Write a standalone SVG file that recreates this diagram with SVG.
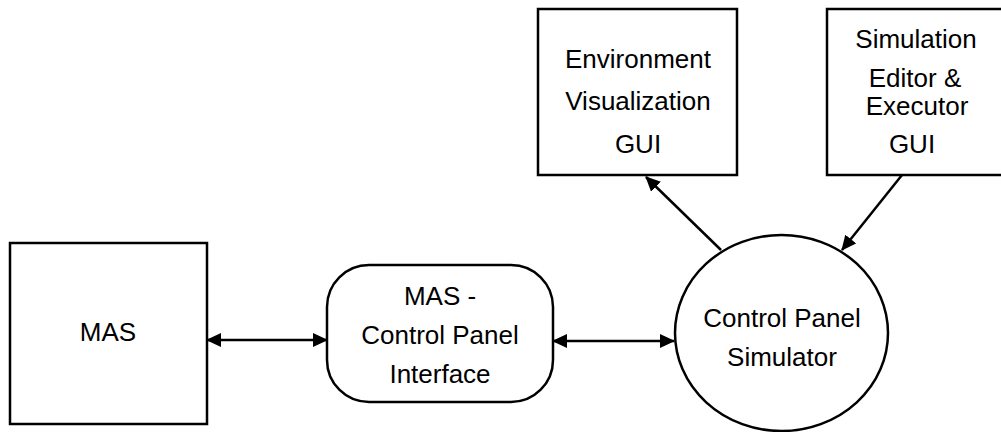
<svg xmlns="http://www.w3.org/2000/svg" width="1001" height="432" viewBox="0 0 1001 432">
  <defs>
    <style>
      .shape { fill: #ffffff; stroke: #000000; stroke-width: 2.5; }
      .edge { fill: none; stroke: #000000; stroke-width: 2.5; }
      .label { font-family: "Liberation Sans", Arial, sans-serif; font-size: 26px; fill: #000000; text-anchor: middle; }
    </style>
    <marker id="head" viewBox="0 0 15 14" markerWidth="15" markerHeight="14" refX="14" refY="7" orient="auto-start-reverse" markerUnits="userSpaceOnUse">
      <path d="M0,0 L15,7 L0,14 z" fill="#000000"/>
    </marker>
  </defs>

  <rect width="1001" height="432" fill="#ffffff"/>

  <!-- connectors -->
  <g id="connectors">
    <line class="edge" x1="207" y1="340" x2="327" y2="340" marker-start="url(#head)" marker-end="url(#head)"/>
    <line class="edge" x1="553" y1="341" x2="674" y2="341" marker-start="url(#head)" marker-end="url(#head)"/>
    <line class="edge" x1="721" y1="250" x2="646" y2="177" marker-end="url(#head)"/>
    <line class="edge" x1="902" y1="175" x2="842" y2="250" marker-end="url(#head)"/>
  </g>

  <g id="mas">
    <rect class="shape" x="10" y="243" width="197" height="181"/>
    <text class="label" x="108" y="341">MAS</text>
  </g>

  <g id="interface">
    <rect class="shape" x="327" y="265" width="226" height="137" rx="42" ry="42"/>
    <text class="label" x="440" y="305">MAS -</text>
    <text class="label" x="440" y="344">Control Panel</text>
    <text class="label" x="440" y="383">Interface</text>
  </g>

  <g id="simulator">
    <ellipse class="shape" cx="781.5" cy="333" rx="106.5" ry="98"/>
    <text class="label" x="782" y="327">Control Panel</text>
    <text class="label" x="782" y="366">Simulator</text>
  </g>

  <g id="env-gui">
    <rect class="shape" x="538" y="9" width="199" height="166"/>
    <text class="label" x="638" y="68">Environment</text>
    <text class="label" x="638" y="110">Visualization</text>
    <text class="label" x="638" y="153">GUI</text>
  </g>

  <g id="sim-gui">
    <rect class="shape" x="827" y="9" width="180" height="166"/>
    <text class="label" x="916" y="48">Simulation</text>
    <text class="label" x="915" y="87">Editor &amp;</text>
    <text class="label" x="917" y="115">Executor</text>
    <text class="label" x="912" y="153">GUI</text>
  </g>
</svg>
